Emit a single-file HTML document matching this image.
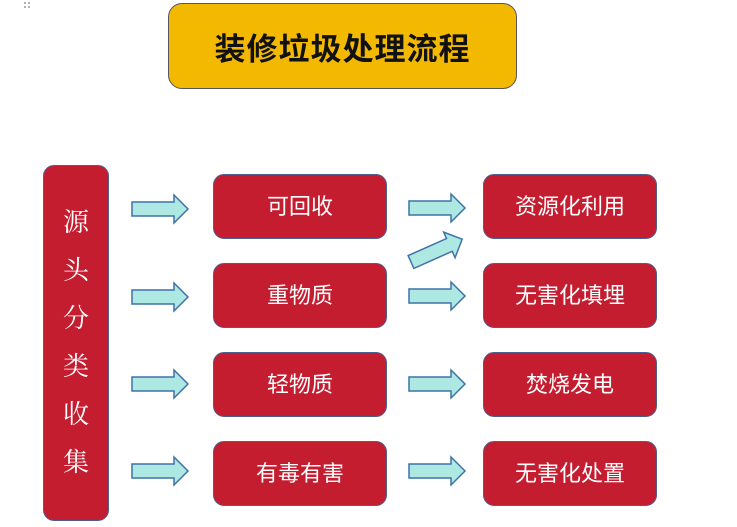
<!DOCTYPE html>
<html><head><meta charset="utf-8"><style>
body{margin:0;width:737px;height:527px;background:#fff;overflow:hidden;position:relative;font-family:"Liberation Sans","Noto Sans CJK SC",sans-serif}
.b{position:absolute;background:#c41d30;border:1.5px solid #4d5f91;border-radius:11px;color:#fff;font-size:22px;display:flex;align-items:center;justify-content:center;box-sizing:border-box;padding-bottom:4px}
.t{position:absolute;left:168px;top:3px;width:349px;height:86px;background:#f2b900;border:1.5px solid #555;border-radius:14px;box-sizing:border-box;display:flex;align-items:center;justify-content:center;font-size:31px;font-weight:bold;color:#111;letter-spacing:1px}
.col{position:absolute;left:43px;top:165px;width:66px;height:356px;}
.ch{position:absolute;left:43px;width:66px;text-align:center;color:#fff;font-size:26px;font-family:"Liberation Serif","Noto Serif CJK SC",serif;z-index:2}
</style></head><body>
<div class="t">装修垃圾处理流程</div>
<div class="b col"></div>
<div class="ch" style="top:202px">源</div>
<div class="ch" style="top:250px">头</div>
<div class="ch" style="top:298px">分</div>
<div class="ch" style="top:346px">类</div>
<div class="ch" style="top:394px">收</div>
<div class="ch" style="top:442px">集</div>
<div class="b" style="left:213px;top:174px;width:174px;height:65px">可回收</div>
<div class="b" style="left:213px;top:263px;width:174px;height:65px">重物质</div>
<div class="b" style="left:213px;top:352px;width:174px;height:65px">轻物质</div>
<div class="b" style="left:213px;top:441px;width:174px;height:65px">有毒有害</div>
<div class="b" style="left:483px;top:174px;width:174px;height:65px">资源化利用</div>
<div class="b" style="left:483px;top:263px;width:174px;height:65px">无害化填埋</div>
<div class="b" style="left:483px;top:352px;width:174px;height:65px">焚烧发电</div>
<div class="b" style="left:483px;top:441px;width:174px;height:65px">无害化处置</div>
<svg width="737" height="527" style="position:absolute;left:0;top:0">
<defs><path id="a" d="M0,-7 L42,-7 L42,-14 L56,0 L42,14 L42,7 L0,7 Z" fill="#aee8e2" stroke="#3f72a8" stroke-width="1.5"/></defs>
<use href="#a" x="132" y="209"/><use href="#a" x="132" y="297"/><use href="#a" x="132" y="384"/><use href="#a" x="132" y="471"/>
<use href="#a" x="409" y="208"/><use href="#a" x="409" y="296"/><use href="#a" x="409" y="384"/><use href="#a" x="409" y="471"/>
<use href="#a" transform="translate(411,262) rotate(-24)"/>
<g fill="#999"><circle cx="25" cy="3" r="1"/><circle cx="29" cy="3" r="1"/><circle cx="25" cy="7" r="1"/><circle cx="29" cy="7" r="1"/></g>
</svg>
</body></html>
